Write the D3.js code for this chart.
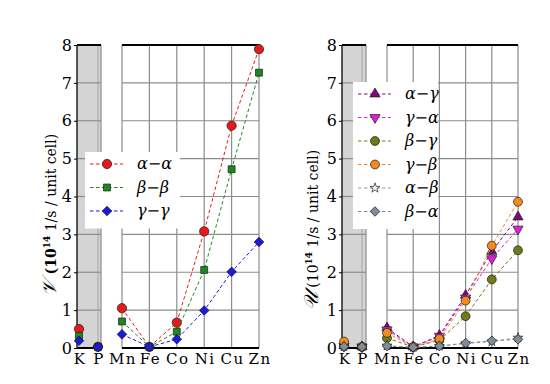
<!DOCTYPE html>
<html>
<head>
<meta charset="utf-8">
<script src="https://cdn.jsdelivr.net/npm/d3@7"></script>
<style>
  body { margin: 0; background: #fff; }
</style>
</head>
<body>
<div id="chart"></div>
<script>
// categories, split over the grey (K, P) and the white part of each plot
var grayCats = ["K", "P"];
var mainCats = ["Mn", "Fe", "Co", "Ni", "Cu", "Zn"];
var yTicks = [0, 1, 2, 3, 4, 5, 6, 7, 8];

// left plot: values for K, P, Mn, Fe, Co, Ni, Cu, Zn
var alphaAlpha = [0.50, 0.03, 1.05, 0.03, 0.67, 3.08, 5.87, 7.89];
var betaBeta   = [0.32, 0.03, 0.70, 0.03, 0.43, 2.06, 4.72, 7.27];
var gammaGamma = [0.19, 0.03, 0.36, 0.03, 0.23, 0.99, 2.01, 2.80];

// right plot
var alphaGamma = [0.06, 0.03, 0.53, 0.03, 0.33, 1.39, 2.55, 3.46];
var gammaAlpha = [0.05, 0.03, 0.48, 0.03, 0.31, 1.32, 2.36, 3.14];
var betaGamma  = [0.05, 0.03, 0.26, 0.03, 0.20, 0.84, 1.81, 2.58];
var gammaBeta  = [0.17, 0.03, 0.40, 0.03, 0.24, 1.25, 2.70, 3.86];
var alphaBeta  = [0.04, 0.03, 0.06, 0.02, 0.05, 0.12, 0.17, 0.27];
var betaAlpha  = [0.04, 0.03, 0.05, 0.02, 0.05, 0.13, 0.19, 0.23];

var allCats = grayCats.concat(mainCats);
var serif = "'DejaVu Serif', 'Liberation Serif', serif";

var svg = d3.select("#chart").append("svg")
    .attr("width", 550).attr("height", 384)
    .style("font-family", serif);

var y = d3.scaleLinear().domain([0, 8]).range([348, 45]);

function markRotate(s) {
    return s.down ? " rotate(180)" : (s.diamond ? " rotate(45)" : "");
}

function drawPanel(p) {
    var g = svg.append("g");
    var xg = d3.scalePoint().domain(grayCats).range([p.k, p.p]);
    var xm = d3.scalePoint().domain(mainCats).range([p.m0, p.m1]);
    function xpos(c) { return grayCats.indexOf(c) >= 0 ? xg(c) : xm(c); }

    // grey box
    g.append("rect").attr("x", p.g0).attr("y", y(8)).attr("width", p.g1 - p.g0)
        .attr("height", y(0) - y(8)).attr("fill", "#d4d4d4");

    // grid
    [[p.g0, p.g1], [p.m0, p.m1]].forEach(function(r) {
        g.selectAll(null).data(yTicks.slice(1, 8)).enter().append("line")
            .attr("x1", r[0]).attr("x2", r[1])
            .attr("y1", function(d) { return y(d); }).attr("y2", function(d) { return y(d); })
            .attr("stroke", "#8c8c8c").attr("stroke-width", 1.2);
    });
    g.selectAll(null).data(mainCats).enter().append("line")
        .attr("x1", xm).attr("x2", xm).attr("y1", y(0)).attr("y2", y(8))
        .attr("stroke", "#8c8c8c").attr("stroke-width", 1.2);
    g.append("line").attr("x1", p.g1).attr("x2", p.g1).attr("y1", y(0)).attr("y2", y(8))
        .attr("stroke", "#8c8c8c").attr("stroke-width", 1.2);
    g.append("line").attr("x1", xg("P")).attr("x2", xg("P")).attr("y1", y(0)).attr("y2", y(8))
        .attr("stroke", "#9a9a9a").attr("stroke-width", 0.8);

    // spines
    [[p.g0, p.g1], [p.m0, p.m1]].forEach(function(r) {
        g.append("line").attr("x1", r[0]).attr("x2", r[1]).attr("y1", y(8)).attr("y2", y(8))
            .attr("stroke", "#000").attr("stroke-width", 2);
        g.append("line").attr("x1", r[0]).attr("x2", r[1]).attr("y1", y(0)).attr("y2", y(0))
            .attr("stroke", "#000").attr("stroke-width", 2);
    });
    g.append("line").attr("x1", p.g0).attr("x2", p.g0).attr("y1", y(0)).attr("y2", y(8))
        .attr("stroke", "#222").attr("stroke-width", 1.5);

    // y axis
    var ay = g.append("g").attr("transform", "translate(" + p.g0 + ",0)")
        .call(d3.axisLeft(y).tickValues(yTicks).tickFormat(d3.format("d")).tickSize(3).tickPadding(2));
    ay.select(".domain").remove();
    ay.attr("font-family", serif);
    ay.selectAll("text").style("font-size", "16px").attr("fill", "#000");

    // x tick labels
    g.selectAll(null).data(allCats).enter().append("text")
        .attr("x", function(d) { return xpos(d) + 1; }).attr("y", 364)
        .attr("text-anchor", "middle")
        .style("font-size", "15px").style("letter-spacing", "1.5px")
        .text(function(d) { return d; });

    // y label
    var lab = g.append("text")
        .attr("transform", "translate(" + p.lx + "," + p.ly + ") rotate(-90)")
        .attr("text-anchor", "middle").style("font-size", "14px");
    lab.append("tspan").style("font-style", "italic").style("font-size", "20px").text(p.sym);
    lab.append("tspan").style("font-weight", p.bold ? "bold" : "normal").text(" (10");
    lab.append("tspan").attr("dy", -6).style("font-size", "9px").style("font-weight", "bold").text("14");
    lab.append("tspan").attr("dy", 6).text(" 1/s / unit cell)");

    // series
    var line = d3.line().x(function(d) { return xm(d.c); }).y(function(d) { return y(d.v); });
    p.series.forEach(function(s) {
        var pts = s.values.map(function(v, i) { return { c: allCats[i], v: v }; });
        g.append("path").datum(pts.slice(2)).attr("d", line)
            .attr("fill", "none").attr("stroke", s.color).attr("stroke-width", 1)
            .attr("stroke-dasharray", "3.5,2.5");
        g.selectAll(null).data(pts).enter().append("path")
            .attr("transform", function(d) {
                return "translate(" + xpos(d.c) + "," + y(d.v) + ")" + markRotate(s);
            })
            .attr("d", d3.symbol().type(s.shape).size(s.size))
            .attr("fill", s.fill || s.color).attr("stroke", "#1a1a1a").attr("stroke-width", 0.7);
    });

    // legend
    var lg = g.append("g");
    lg.append("rect").attr("x", p.legX).attr("y", p.legY).attr("width", p.legW)
        .attr("height", p.series.length * 23.5 + 6).attr("fill", "#fff");
    p.series.forEach(function(s, i) {
        var ly = p.legY + 12 + i * 23.5;
        lg.append("line").attr("x1", p.legX + 5).attr("x2", p.legX + 38)
            .attr("y1", ly).attr("y2", ly)
            .attr("stroke", s.color).attr("stroke-width", 1).attr("stroke-dasharray", "3.5,2.5");
        lg.append("path").attr("transform", "translate(" + (p.legX + 22) + "," + ly + ")" + markRotate(s))
            .attr("d", d3.symbol().type(s.shape).size(s.size))
            .attr("fill", s.fill || s.color).attr("stroke", "#1a1a1a").attr("stroke-width", 0.7);
        lg.append("text").attr("x", p.legX + 52).attr("y", ly + 5)
            .style("font-size", "16px").style("font-style", "italic")
            .text(s.name);
    });
}

drawPanel({
    g0: 77, g1: 101, k: 79, p: 98, m0: 122, m1: 259,
    lx: 56, ly: 215, sym: "\uD835\uDCB1", bold: true,
    legX: 85, legY: 152, legW: 95,
    series: [
        { name: "\u03B1\u2212\u03B1", values: alphaAlpha, color: "#e8191c", shape: d3.symbolCircle, size: 68 },
        { name: "\u03B2\u2212\u03B2", values: betaBeta, color: "#1e8a1e", shape: d3.symbolSquare, size: 48 },
        { name: "\u03B3\u2212\u03B3", values: gammaGamma, color: "#1a1ae0", shape: d3.symbolSquare, size: 46, diamond: true }
    ]
});

drawPanel({
    g0: 342, g1: 366, k: 344, p: 362, m0: 387, m1: 518,
    lx: 318, ly: 230, sym: "\uD835\uDCB0", bold: false,
    legX: 353, legY: 82, legW: 85,
    series: [
        { name: "\u03B1\u2212\u03B3", values: alphaGamma, color: "#7d0a7d", shape: d3.symbolTriangle, size: 45 },
        { name: "\u03B3\u2212\u03B1", values: gammaAlpha, color: "#e01ee0", shape: d3.symbolTriangle, size: 45, down: true },
        { name: "\u03B2\u2212\u03B3", values: betaGamma, color: "#6f7a1a", shape: d3.symbolCircle, size: 62 },
        { name: "\u03B3\u2212\u03B2", values: gammaBeta, color: "#f28a1e", shape: d3.symbolCircle, size: 62 },
        { name: "\u03B1\u2212\u03B2", values: alphaBeta, color: "#999999", fill: "#ffffff", shape: d3.symbolStar, size: 30 },
        { name: "\u03B2\u2212\u03B1", values: betaAlpha, color: "#7f8c99", shape: d3.symbolSquare, size: 46, diamond: true }
    ]
});
</script>
</body>
</html>
